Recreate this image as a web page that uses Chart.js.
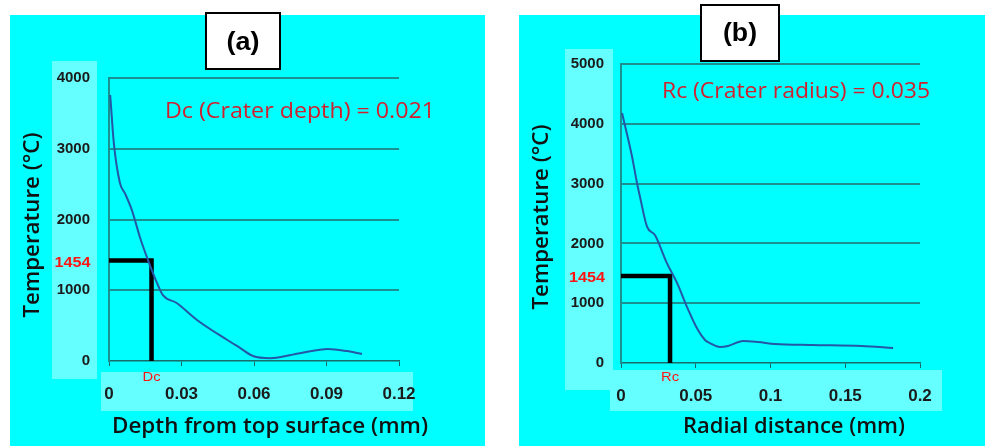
<!DOCTYPE html>
<html lang="en">
<head>
<meta charset="UTF-8">
<title>Crater temperature profiles</title>
<script src="https://cdn.jsdelivr.net/npm/chart.js"></script>
<style>
  body { margin: 0; background: #fff; width: 985px; height: 446px; position: relative; overflow: hidden; }
  canvas { position: absolute; top: 0; }
</style>
</head>
<body>
<canvas id="chartA" width="490" height="446" style="left:0"></canvas>
<canvas id="chartB" width="490" height="446" style="left:495px"></canvas>
<script>
// (a) temperature vs depth from top surface
var depthX = [0.0005, 0.002, 0.0045, 0.0066, 0.0095, 0.0128, 0.0161, 0.0199, 0.0223, 0.028, 0.0364, 0.0488, 0.0542, 0.0596, 0.0666, 0.079, 0.0906, 0.0985, 0.1047];
var depthT = [3760, 3080, 2520, 2370, 2130, 1750, 1430, 1100, 930, 820, 580, 300, 185, 70, 40, 110, 170, 140, 100];
var depthTicksX = [0, 0.03, 0.06, 0.09, 0.12];
var depthTicksY = [0, 1000, 2000, 3000, 4000];
var depthGuideX = [0, 0.0176, 0.0176];
var depthGuideY = [1420, 1420, 0];

// (b) temperature vs radial distance
var radialX = [0.0007, 0.0074, 0.0107, 0.0127, 0.0174, 0.0227, 0.0307, 0.0375, 0.0441, 0.0515, 0.0562, 0.0595, 0.0662, 0.0716, 0.0816, 0.0916, 0.103, 0.1278, 0.161, 0.182];
var radialT = [4180, 3450, 3010, 2780, 2280, 2140, 1670, 1340, 940, 550, 385, 334, 268, 284, 368, 351, 318, 301, 284, 251];
var radialTicksX = [0, 0.05, 0.1, 0.15, 0.2];
var radialTicksY = [0, 1000, 2000, 3000, 4000, 5000];
var radialGuideX = [0, 0.0328, 0.0328];
var radialGuideY = [1454, 1454, 0];

var meltLabel = '1454';

function toPoints(xs, ys) {
  return xs.map(function (x, i) { return { x: x, y: ys[i] }; });
}

// draw a text squeezed/stretched to a given width
function fitText(c, text, cx, cy, w, font, color, rot) {
  c.save();
  c.font = font;
  c.fillStyle = color;
  c.textAlign = 'center';
  c.textBaseline = 'middle';
  c.translate(cx, cy);
  if (rot) c.rotate(rot);
  var m = c.measureText(text).width;
  c.scale(w / m, 1);
  c.fillText(text, 0, 0);
  c.restore();
}

var panelPlugin = {
  id: 'panel',
  beforeDraw: function (chart, args, o) {
    var c = chart.ctx;
    c.save();
    c.fillStyle = '#00ffff';
    c.fillRect(o.bg[0], o.bg[1], o.bg[2] - o.bg[0], o.bg[3] - o.bg[1]);
    c.fillStyle = '#66ffff';
    o.bands.forEach(function (b) { c.fillRect(b[0], b[1], b[2] - b[0], b[3] - b[1]); });
    c.restore();
  },
  afterDraw: function (chart, args, o) {
    var c = chart.ctx;
    var xs = chart.scales.x, ys = chart.scales.y;
    // panel letter box
    c.save();
    c.fillStyle = '#fff';
    c.strokeStyle = '#000';
    c.lineWidth = 2;
    c.fillRect(o.box[0], o.box[1], o.box[2] - o.box[0], o.box[3] - o.box[1]);
    c.strokeRect(o.box[0], o.box[1], o.box[2] - o.box[0], o.box[3] - o.box[1]);
    c.restore();
    fitText(c, o.letter, (o.box[0] + o.box[2]) / 2, o.letterY, o.letterW, 'bold 26px "Liberation Sans"', '#000');
    fitText(c, o.note, o.noteX, o.noteY, o.noteW, '22px "Open Sans"', '#d21f2e');
    fitText(c, o.xTitle, o.xTitleX, 427, o.xTitleW, '600 21px "Open Sans"', '#111');
    fitText(c, 'Temperature (°C)', o.yTitleX, o.yTitleY, 185, '600 21px "Open Sans"', '#111', -Math.PI / 2);
    fitText(c, meltLabel, o.levelX, ys.getPixelForValue(o.level) + 2, 36, 'bold 15px "Liberation Sans"', '#ff1414');
    fitText(c, o.mark, xs.getPixelForValue(o.markAt), 377, 18, '13px "Liberation Sans"', '#ff1414');
  }
};

function makeChart(id, xsData, ysData, gx, gy, ticksX, ticksY, fmt, pad, yPad, panel) {
  return new Chart(document.getElementById(id), {
    type: 'line',
    data: {
      datasets: [{
        data: toPoints(xsData, ysData),
        borderColor: '#2457a6',
        borderWidth: 2,
        pointRadius: 0,
        cubicInterpolationMode: 'monotone',
        fill: false
      }, {
        data: toPoints(gx, gy),
        borderColor: '#000',
        borderWidth: 4.5,
        pointRadius: 0,
        tension: 0,
        fill: false
      }]
    },
    options: {
      responsive: false,
      animation: false,
      devicePixelRatio: 1,
      layout: { padding: pad },
      plugins: { legend: { display: false }, tooltip: { enabled: false }, panel: panel },
      scales: {
        x: {
          type: 'linear',
          min: ticksX[0],
          max: ticksX[ticksX.length - 1],
          afterBuildTicks: function (s) { s.ticks = ticksX.map(function (v) { return { value: v }; }); },
          afterFit: function (s) { s.height = 40; },
          grid: { drawOnChartArea: false, drawTicks: true, tickLength: 5, color: '#1c6b6b', lineWidth: 1 },
          border: { display: true, color: '#1c6b6b', width: 1.5 },
          ticks: {
            padding: 18,
            color: '#1a1a1a',
            font: { family: 'Liberation Sans', size: 17, weight: 'bold' },
            callback: function (v) { return fmt(v); }
          }
        },
        y: {
          min: ticksY[0],
          max: ticksY[ticksY.length - 1],
          afterBuildTicks: function (s) { s.ticks = ticksY.map(function (v) { return { value: v }; }); },
          afterFit: function (s) { s.width = 90; },
          grid: {
            drawTicks: false,
            lineWidth: 2,
            color: function (ctx) { return ctx.tick && ctx.tick.value === 0 ? 'rgba(0,0,0,0)' : '#1a9090'; }
          },
          border: { display: true, color: '#1a9090', width: 2 },
          ticks: {
            padding: yPad,
            color: '#1a1a1a',
            font: { family: 'Liberation Sans', size: 15, weight: 'bold' },
            callback: function (v) { return String(v); }
          }
        }
      }
    },
    plugins: [panelPlugin]
  });
}

makeChart('chartA', depthX, depthT, depthGuideX, depthGuideY, depthTicksX, depthTicksY,
  function (v) { return v === 0 ? '0' : v.toFixed(2); },
  { left: 19, right: 91, top: 78, bottom: 45 }, 19,
  {
    bg: [10, 15, 485, 446],
    bands: [[52, 61, 97, 379], [101, 372, 413, 411]],
    box: [206, 13, 280, 69], letter: '(a)', letterY: 43, letterW: 33,
    note: 'Dc (Crater depth) = 0.021', noteX: 300, noteY: 112, noteW: 270,
    xTitle: 'Depth from top surface (mm)', xTitleX: 270, xTitleW: 316,
    yTitleX: 33, yTitleY: 225,
    level: depthGuideY[0], levelX: 72.5,
    mark: 'Dc', markAt: depthGuideX[1]
  });

makeChart('chartB', radialX, radialT, radialGuideX, radialGuideY, radialTicksX, radialTicksY,
  function (v) { return String(Math.round(v * 100) / 100); },
  { left: 36, right: 65, top: 64, bottom: 43 }, 17,
  {
    bg: [24, 15, 490, 446],
    bands: [[70, 49, 118, 390], [115, 370, 447, 411]],
    box: [206, 5, 284, 61], letter: '(b)', letterY: 34, letterW: 34,
    note: 'Rc (Crater radius) = 0.035', noteX: 301, noteY: 92, noteW: 268,
    xTitle: 'Radial distance (mm)', xTitleX: 299, xTitleW: 222,
    yTitleX: 47, yTitleY: 217,
    level: radialGuideY[0], levelX: 92,
    mark: 'Rc', markAt: radialGuideX[1]
  });
</script>
</body>
</html>
